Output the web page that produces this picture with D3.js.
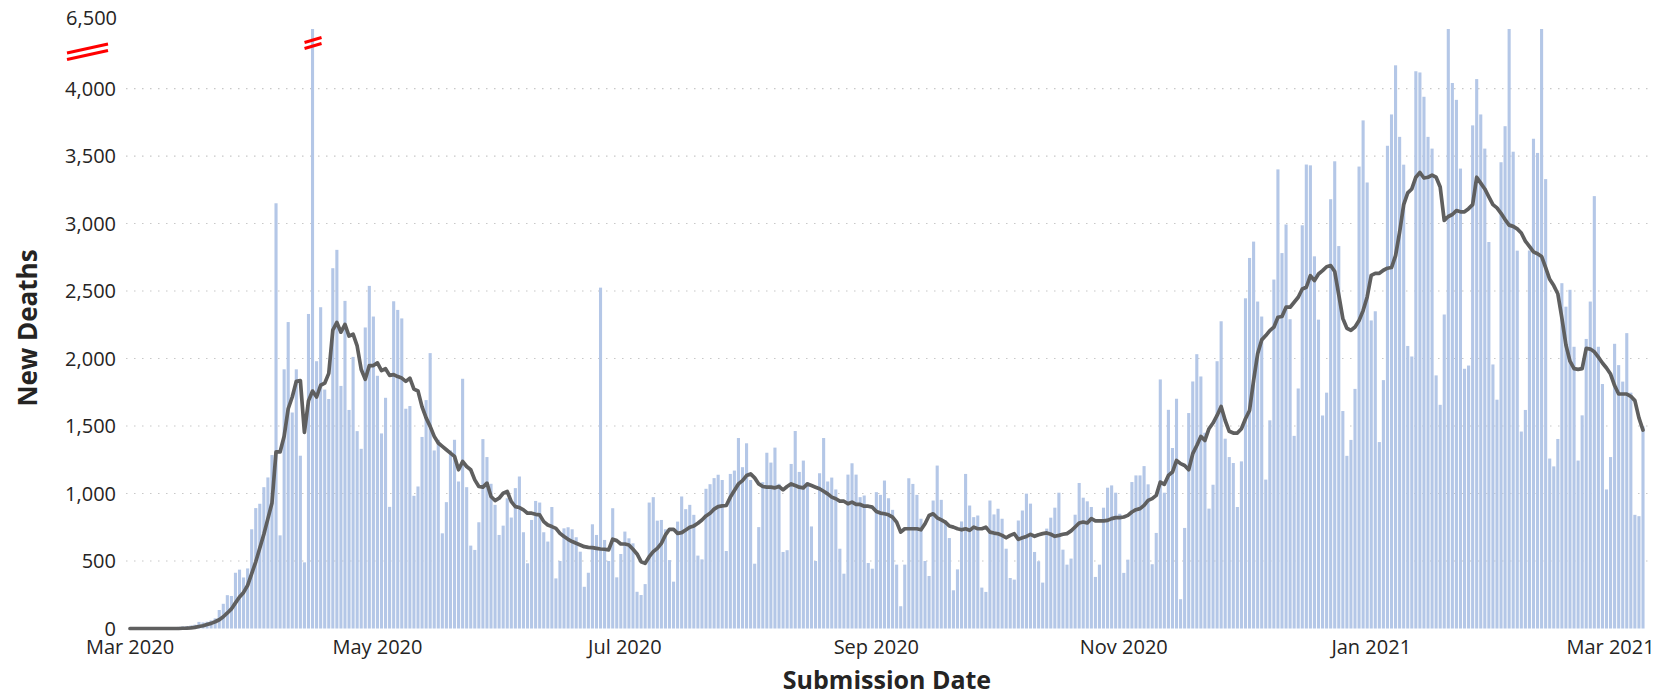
<!DOCTYPE html>
<html><head><meta charset="utf-8">
<script src="https://cdn.jsdelivr.net/npm/d3@7"></script>
<style>
body{margin:0;background:#fff;}
text{font-family:"Open Sans","Noto Sans",sans-serif;}
</style></head>
<body><svg id="chart" width="1659" height="697"></svg>
<script>
const startDate = "2020-03-01";
const newDeaths = [
0,0,0,1,1,2,3,4,5,6,8,10,12,15,18,22,28,
49,45,50,60,75,137,183,247,241,413,436,378,445,735,892,924,1047,1119,1285,
3150,
690,1920,2270,1600,1920,1280,490,2330,
6400,
1980,2380,1770,1700,
2669,2805,1797,2427,1619,2012,1462,1331,2230,2538,2311,1872,1445,1709,901,2424,2360,2297,1628,1648,983,1052,1419,1692,2040,
1319,1398,705,936,1319,1398,1089,1850,
1047,614,582,787,1403,1270,1072,916,693,762,965,822,1040,1126,713,483,804,945,933,713,644,900,371,500,742,750,735,676,569,309,413,772,693,
2525,
656,500,891,379,552,718,668,631,272,248,329,933,973,799,804,735,507,347,792,978,884,916,842,540,512,1035,1069,1114,1139,1100,
574,1145,1170,1411,1195,1372,1100,480,751,1084,1302,1229,1340,1072,567,580,1219,1463,1160,1244,1084,756,500,1150,1411,1089,1118,1030,591,406,1140,1224,1140,973,985,485,443,1010,990,1096,965,879,473,165,473,1113,1071,990,813,500,389,948,1207,953,800,670,283,438,793,1145,911,825,837,303,271,948,845,887,813,591,374,362,800,874,999,925,
567,498,340,740,821,895,1006,584,473,518,843,1078,969,942,900,382,473,895,1043,1060,1006,850,412,510,1085,1134,1134,1203,1068,476,708,1845,1006,1620,1337,1702,217,745,1596,1830,2032,1867,1450,888,1065,1980,2276,1406,1270,1226,900,1238,2446,2745,2866,2422,2311,1103,1542,2585,3401,2781,2993,2291,1427,1778,2987,3437,3431,2757,2288,1578,1747,
3180,3461,2833,1611,1279,1397,1775,3422,3764,3304,2282,2350,1381,1840,3576,3808,4172,3642,3436,2093,2015,4128,4119,3939,3642,3555,1875,1657,2326,4460,4041,3916,3407,1924,1948,3727,4070,3808,3555,2863,1956,1695,3454,3721,5050,3532,2799,1459,1619,2800,3628,3523,5460,3329,1259,1201,1404,2558,2384,2509,2087,1244,1579,2145,2422,3203,2087,1811,1030,1270,2109,1951,1829,2188,1747,842,832,1497
];
const avg7 = [
0,0,0,0,0,0,0,0,0,0,0,0,0,
2,3,5,8,15,20,30,38,50,65,87,115,145,190,233,267,320,407,494,596,698,814,930,
1308,1308,1424,1628,1715,1831,1837,1453,1686,1759,1715,1802,1817,1890,2210,2267,2195,2253,2166,2180,2093,1919,1846,1948,1948,1968,1910,1924,1875,1881,1866,1855,1831,1855,1773,1759,1642,1560,1497,
1423,1374,1349,1324,1299,1275,1176,1237,1200,1176,1101,1052,1047,1077,978,948,965,1002,1015,940,903,896,879,854,854,846,842,792,767,755,742,705,681,661,644,631,619,606,601,599,594,589,587,582,661,651,626,626,619,587,552,495,483,532,569,594,631,693,735,735,705,710,730,750,760,780,804,834,854,884,903,908,
911,973,1022,1071,1096,1133,1145,1116,1071,1052,1047,1047,1042,1052,1027,1052,1071,1059,1047,1042,1071,1059,1047,1035,1017,997,973,961,943,943,924,936,919,919,906,906,899,867,855,850,842,825,788,714,739,739,739,739,731,776,837,850,820,805,788,759,751,739,731,739,727,751,739,739,751,714,707,702,690,672,690,702,660,672,682,697,
683,695,703,708,698,683,690,698,703,723,752,782,789,782,814,797,797,797,801,814,821,821,826,838,863,880,888,912,949,962,986,1085,1068,1134,1159,1245,1221,1208,1176,1295,1356,1423,1393,1480,1522,1578,1645,1541,1461,1448,1448,1480,1554,1615,1837,2035,2138,2170,2207,2232,2306,2311,2380,2380,2417,2454,2515,2528,2614,2577,2626,2651,
2680,2689,2645,2471,2297,2224,2209,2233,2282,2355,2456,2616,2631,2631,2654,2669,2674,2762,2936,3140,3227,3256,3343,3378,3337,3343,3358,3343,3270,3023,3052,3067,3096,3087,3087,3110,3140,3343,3299,3256,3198,3140,3116,3076,3029,2988,2979,2960,2930,2870,2830,2790,2776,2756,2674,2587,2540,2480,2300,2100,1980,1925,1920,1925,2076,2070,2050,2010,1967,1930,1885,1800,1737,1737,1737,1720,1688,1560,1470
];
const yTickValues = [0,500,1000,1500,2000,2500,3000,3500,4000];
const yTopLabel = "6,500";
const xTickDates = ["2020-03-01","2020-05-01","2020-07-01","2020-09-01","2020-11-01","2021-01-01","2021-03-01"];
const xTickLabels = ["Mar 2020","May 2020","Jul 2020","Sep 2020","Nov 2020","Jan 2021","Mar 2021"];
const brokenBarDate = "2020-04-15";

const parse = d3.utcParse("%Y-%m-%d");
const t0 = parse(startDate);
const dates = newDeaths.map((_, i) => d3.utcDay.offset(t0, i));
const svg = d3.select("#chart");

const x = d3.scaleUtc().domain([t0, dates[dates.length-1]]).range([130, 1643]);
const yCap = 4441;
const y = d3.scaleLinear().domain([0, yCap]).range([628.5, 29]).clamp(true);

// gridlines
svg.append("g").selectAll("line").data(yTickValues.filter(v=>v>0)).join("line")
  .attr("x1", 126).attr("x2", 1652)
  .attr("y1", d=>y(d)).attr("y2", d=>y(d))
  .attr("stroke", "#c8c8c8").attr("stroke-width", 1.2)
  .attr("stroke-dasharray", "1.5 6.5");

// bars
svg.append("g").selectAll("rect").data(newDeaths).join("rect")
  .attr("x", (d,i)=>x(dates[i]) - 1.55)
  .attr("width", 3.1)
  .attr("y", d=>y(d))
  .attr("height", d=>y(0)-y(d))
  .attr("fill", "#b4c7e7");

// line
const line = d3.line().x((d,i)=>x(dates[i])).y(d=>y(d));
svg.append("path").datum(avg7).attr("d", line)
  .attr("fill","none").attr("stroke","#5f5f5f").attr("stroke-width",3.7)
  .attr("stroke-linejoin","round").attr("stroke-linecap","round");

// y tick labels
svg.append("g").selectAll("text").data(yTickValues).join("text")
  .attr("x", 116).attr("y", d=>y(d)).attr("dy","0.35em")
  .attr("text-anchor","end").attr("font-size",20).attr("fill","#252423")
  .text(d=>d3.format(",")(d));
svg.append("text").attr("x",117).attr("y", y(yCap)-11).attr("dy","0.35em")
  .attr("text-anchor","end").attr("font-size",20).attr("fill","#252423").text(yTopLabel);

// break marks
const brk = svg.append("g").attr("stroke","#ff0000").attr("stroke-width",3);
[0,6.5].forEach(o=>{
  brk.append("line").attr("x1",67).attr("y1",53+o).attr("x2",108).attr("y2",44+o);
});
const bx = x(parse(brokenBarDate));
[0,6].forEach(o=>{
  brk.append("line").attr("x1",bx-8).attr("y1",48.5+o-6).attr("x2",bx+9).attr("y2",43.5+o-6);
});

// x tick labels
svg.append("g").selectAll("text").data(xTickDates).join("text")
  .attr("x", d=>x(parse(d))).attr("y", 646.5).attr("dy","0.35em")
  .attr("text-anchor","middle").attr("font-size",20).attr("fill","#252423")
  .text((d,i)=>xTickLabels[i]);

// titles
svg.append("text").attr("x",887).attr("y",689)
  .attr("text-anchor","middle").attr("font-size",25).attr("font-weight","bold").attr("fill","#252423")
  .text("Submission Date");
svg.append("text").attr("transform","translate(28,328) rotate(-90)").attr("dy","0.35em")
  .attr("text-anchor","middle").attr("font-size",26).attr("font-weight","bold").attr("fill","#252423")
  .text("New Deaths");
</script>
</body></html>
